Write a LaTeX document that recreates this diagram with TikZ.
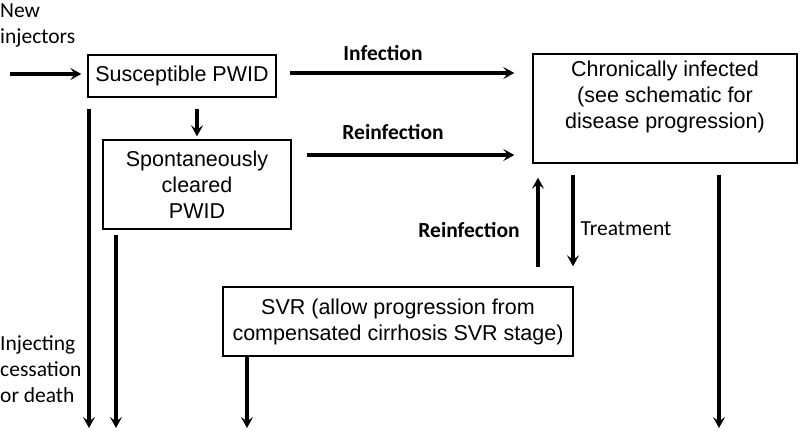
\documentclass[tikz,border=0pt]{standalone}
\usepackage{fontspec}
\setmainfont{Liberation Sans}
\newfontfamily\calib{Carlito}
\usetikzlibrary{arrows.meta}
\begin{document}
\begin{tikzpicture}[x=1pt,y=-1pt,
  box/.style={draw, line width=1.4pt, inner sep=0pt, align=center, font=\fontsize{21.5}{26}\selectfont},
  lbl/.style={inner sep=0pt, font=\calib\fontsize{21.5}{26}\selectfont},
  blbl/.style={inner sep=0pt, font=\calib\bfseries\fontsize{21.5}{26}\selectfont},
  arr/.style={line width=3.2pt, -{Stealth[length=11pt,width=12pt,inset=4.5pt]}}]
\useasboundingbox (0,0) rectangle (800,435);
% boxes
\node[box, minimum width=188pt, minimum height=42pt] (sus) at (182,76) {Susceptible PWID};
\node[box, minimum width=188pt, minimum height=89pt] (spont) at (197,184.5) {Spontaneously\\cleared\\PWID};
\node[box, minimum width=264pt, minimum height=109pt] (chron) at (665,108.5) {};
\node[box, draw=none, anchor=north] (chront) at ([yshift=-7pt]chron.north) {Chronically infected\\(see schematic for\\disease progression)};
\node[box, minimum width=350pt, minimum height=69pt] (svr) at (398,321.5) {SVR (allow progression from\\compensated cirrhosis SVR stage)};
% labels
\node[lbl, align=left, anchor=west] (newinj) at (0,25) {New\\injectors};
\node[lbl, align=left, anchor=west] (cess) at (0,369) {Injecting\\cessation\\or death};
\node[blbl] (inf) at (383,53) {Infection};
\node[blbl] (reinf1) at (393,132) {Reinfection};
\node[blbl] (reinf2) at (469,230) {Reinfection};
\node[lbl] (treat) at (626,229) {Treatment};
% coordinates
\coordinate (ni) at (10,74);
\coordinate (i1) at (290,73);
\coordinate (r1) at (307,155);
\coordinate (d1) at (89,428);
\coordinate (d2) at (116,428);
\coordinate (d3) at (247,428);
\coordinate (d4) at (719,428);
\coordinate (xu) at (538,220);
\coordinate (xt) at (573,220);
% arrows
\draw[arr, shorten >=6pt] (ni) -- (ni -| sus.west);
\draw[arr, shorten >=18pt] (i1) -- (i1 -| chron.west);
\draw[arr, shorten >=18pt] (r1) -- (r1 -| chron.west);
\draw[arr, shorten <=11pt, shorten >=3pt] (spont.north |- sus.south) -- (spont.north);
\draw[arr, shorten <=11pt] (d1 |- sus.south) -- (d1);
\draw[arr, shorten <=5pt] (d2 |- spont.south) -- (d2);
\draw[arr] (d3 |- svr.south) -- (d3);
\draw[arr, shorten <=11pt] (d4 |- chron.south) -- (d4);
\draw[arr, shorten <=19pt, shorten >=14pt] (xu |- svr.north) -- (xu |- chron.south);
\draw[arr, shorten <=11pt, shorten >=20pt] (xt |- chron.south) -- (xt |- svr.north);
\end{tikzpicture}
\end{document}
